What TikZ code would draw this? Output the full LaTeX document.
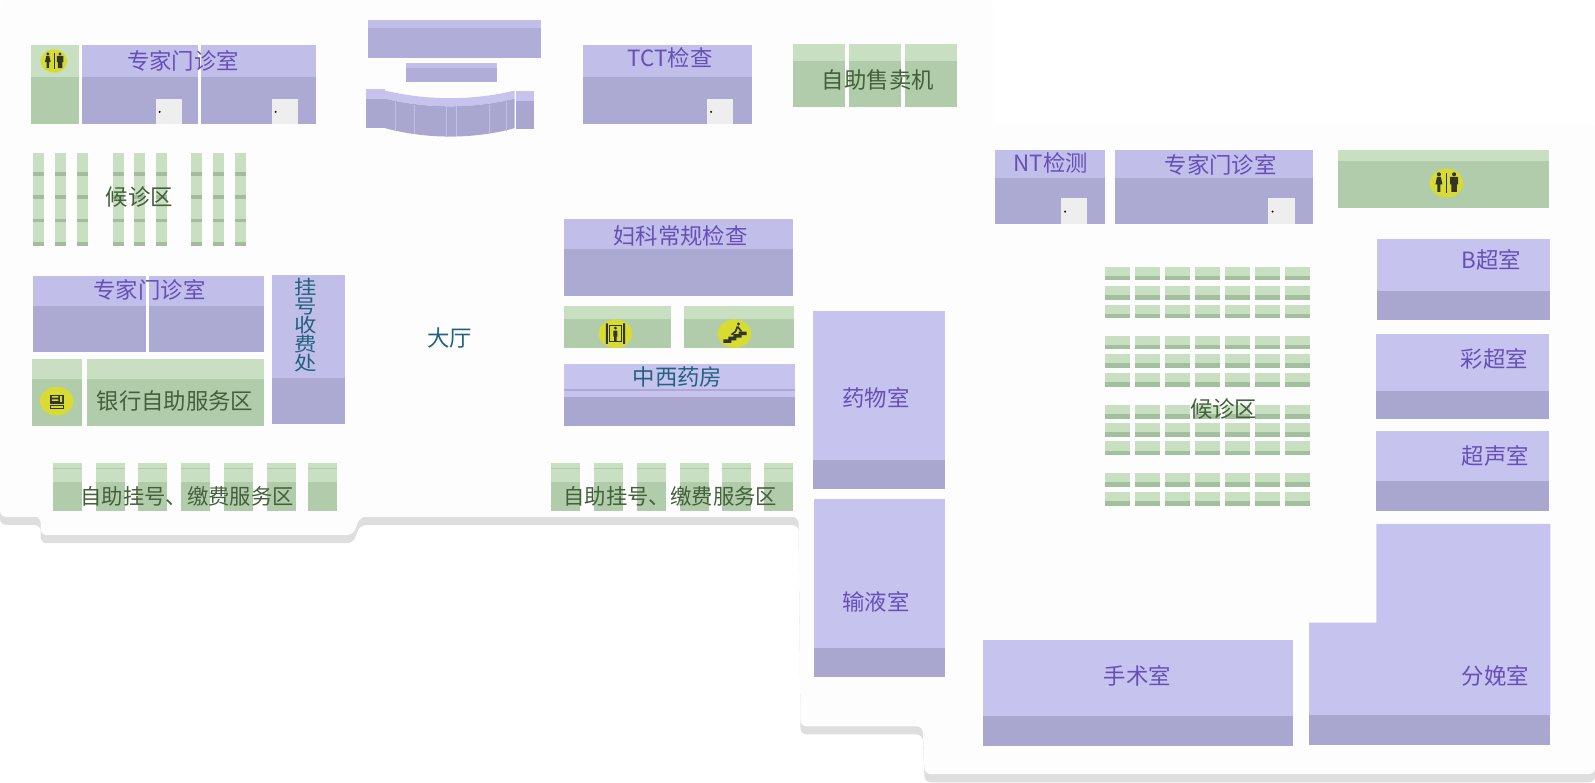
\documentclass[tikz,border=0pt]{standalone}
\usepackage{fontspec}
\setmainfont{Noto Sans CJK SC}
\definecolor{pT}{HTML}{C1BEE9}
\definecolor{pB}{HTML}{ACA9D3}
\definecolor{rB}{HTML}{B0AED8}
\definecolor{qT}{HTML}{C6C4EE}
\definecolor{qB}{HTML}{A9A6CF}
\definecolor{gT}{HTML}{C8DFC1}
\definecolor{gB}{HTML}{B1CCAB}
\definecolor{sB}{HTML}{A2BF9E}
\definecolor{tP}{HTML}{6650B8}
\definecolor{tG}{HTML}{44603A}
\definecolor{tB}{HTML}{23627F}
\definecolor{yel}{HTML}{D8DC32}
\definecolor{ico}{HTML}{33352A}
\definecolor{flo}{HTML}{FDFDFD}
\definecolor{sha}{HTML}{DEDEDE}
\definecolor{dr}{HTML}{EEEEEE}
\tikzset{
 lbl/.style={inner sep=0pt,font=\fontsize{22}{22}\selectfont},
 lp/.style={lbl,text=tP}, lg/.style={lbl,text=tG}, lb/.style={lbl,text=tB},
 lsm/.style={inner sep=0pt,text=tG,font=\fontsize{21}{21}\selectfont},
 lsq/.style={lb,yscale=0.87,transform shape},
 floorpath/.style={rounded corners=6pt},
}
% #1 x0, #2 y0, #3 x1, #4 y1, #5 split, #6 top, #7 bottom
\newcommand{\room}[7]{\fill[#6] (#1,#2) rectangle (#3,#5);\fill[#7] (#1,#5) rectangle (#3,#4);}
\newcommand{\doorat}[2]{\fill[dr] (#1,#2) rectangle ++(26,25);\fill[black!80!red] (#1+4,#2+13) circle (1.1);}
\newcommand{\spot}[2]{\fill[yel] (#1,#2) ellipse (16.5 and 14);}
% #1 x, #2 y, #3 scale
\newcommand{\wc}[3]{\begin{scope}[shift={(#1,#2)},scale=#3]
 \fill[yel] (0,0) ellipse (13.2 and 11.4);
 \fill[ico] (-6,-7) circle (1.6) (6,-7) circle (1.6);
 \fill[ico] (-7.5,-5) -- (-4.5,-5) -- (-3.2,1) -- (-4.8,1) -- (-4.8,7) -- (-7.2,7) -- (-7.2,1) -- (-8.8,1) -- cycle;
 \fill[ico] (2.8,-5) rectangle (9.2,1) (3.8,0) rectangle (8.2,7);
 \fill[ico] (-0.4,-8) rectangle (0.4,8);
 \end{scope}}
\begin{document}
\begin{tikzpicture}[x=1pt,y=-1pt]
\useasboundingbox (0,0) rectangle (1568,769);
\fill[white] (0,0) rectangle (1568,769);
% floor shadow: the floor outline moved 8 down
\fill[sha,floorpath,shift={(0,8)}] (0,0) -- (0,508) -- (40,508) -- (40,526) -- (347,526) -- (354,508) -- (785,508) -- (787,714) -- (907,714) -- (909,761) -- (1568,761) -- (1568,121) -- (976,121) -- (976,0) -- cycle;
% floor
\fill[flo,floorpath] (0,0) -- (0,508) -- (40,508) -- (40,526) -- (347,526) -- (354,508) -- (785,508) -- (787,714) -- (907,714) -- (909,761) -- (1568,761) -- (1568,121) -- (976,121) -- (976,0) -- cycle;

% left top
\room{30}{44}{78}{122}{76}{gT}{gB}
\wc{53}{60}{1}
\room{81}{44}{195}{122}{76}{pT}{pB}
\room{198}{44}{311}{122}{76}{pT}{pB}
\doorat{153}{97}\doorat{267}{97}
\node[lp] (zj1) at (180,60) {专家门诊室};

% left seats
\foreach \x/\w in {32/11,54/11,76/10.5,111/10.5,132/11,153/11,188/10.5,209/11,231/10.5}{
 \fill[gT] (\x,150) rectangle ++(\w,92);
 \foreach \y/\h in {169/4,192/3.5,215/3.5,238/4}{\fill[gB!92!black] (\x,\y) rectangle ++(\w,\h);}
}
\node[lg] (hz1) at (137,194) {候诊区};

% reception
\room{362}{20}{532}{57}{28}{pT}{rB}
\room{399}{62}{489}{81}{67}{pT}{rB}
\room{360}{87}{378}{126}{97}{qT}{qB}
\room{507}{89}{525}{127}{99}{qT}{qB}
\fill[qT] (378.5,89) .. controls (420,99) and (465,99) .. (506,89) -- (506,97) .. controls (465,107) and (420,107) .. (378.5,97) -- cycle;
\fill[qB] (378.5,97) .. controls (420,107) and (465,107) .. (506,97) -- (506,126) .. controls (465,137) and (420,137) .. (378.5,126) -- cycle;
\draw[pT,line width=0.6pt] (389,100) -- (389,128.5) (407,103) -- (407,131.5) (439,104.5) -- (439,133.5) (449,104.5) -- (449,133.5) (481,103) -- (481,131.5) (498,100) -- (498,128.5);

% TCT
\room{573}{44}{739}{122}{76}{pT}{pB}
\doorat{695}{97}
\node[lp] (tct) at (659,57) {TCT检查};

% vending
\room{780}{43}{831}{105}{60}{gT}{gB}
\room{835}{43}{886}{105}{60}{gT}{gB}
\room{890}{43}{941}{105}{60}{gT}{gB}
\node[lg] (sm) at (863,79) {自助售卖机};

% upper right
\room{978}{147}{1086}{220}{175}{pT}{pB}
\doorat{1043}{195}
\node[lp] (nt) at (1033,160) {NT检测};
\room{1096}{147}{1291}{220}{175}{pT}{pB}
\doorat{1247}{195}
\node[lp] (zj2) at (1200,162) {专家门诊室};
\room{1315}{147}{1523}{204}{158}{gT}{gB}
\wc{1422}{180}{1.24}

% ultrasound rooms
\room{1354}{235}{1524}{315}{286}{qT}{qB}
\node[lp] (bc) at (1466,255) {B超室};
\room{1353}{328}{1523}{412}{384}{qT}{qB}
\node[lp] (cc) at (1469,353) {彩超室};
\room{1353}{424}{1523}{502}{473}{qT}{qB}
\node[lp] (cs) at (1470,448) {超声室};

% delivery
\fill[qT] (1353,515) -- (1524,515) -- (1524,703) -- (1287,703) -- (1287,612) -- (1353,612) -- cycle;
\fill[qB] (1287,703) rectangle (1524,732);
\node[lp] (fm) at (1470,664) {分娩室};
% surgery
\room{966}{629}{1271}{733}{704}{qT}{qB}
\node[lp] (ss) at (1118,664) {手术室};
% pharmacy, infusion
\room{799}{306}{929}{481}{452}{qT}{qB}
\node[lp] (yw) at (861,391) {药物室};
\room{800}{491}{929}{666}{637}{qT}{qB}
\node[lp] (sy) at (861,592) {输液室};

% gynecology
\room{554}{215}{780}{291}{245}{pT}{pB}
\node[lp] (fk) at (669,232) {妇科常规检查};
% lift and stairs
\room{554}{301}{660}{342}{314}{gT}{gB}
\room{672}{301}{781}{342}{314}{gT}{gB}
\spot{605}{328}
\fill[ico] (595.5,318) rectangle (597.5,338) (612.5,318) rectangle (614.5,338);
\draw[ico,line width=0.8pt] (599,320) rectangle (611,336);
\fill[ico] (605,322.5) circle (1.5) (603,325) rectangle (607,331) (603.7,331) rectangle (606.3,335);
\spot{722}{328}
\fill[ico] (711,333.5) -- (716,333.5) -- (716,331) -- (721,331) -- (721,328.5) -- (726,328.5) -- (726,326) -- (734,326) -- (734,329.5) -- (729,329.5) -- (729,332) -- (724,332) -- (724,334.5) -- (719,334.5) -- (719,337) -- (711,337) -- cycle;
\fill[ico] (726,318.5) circle (1.6);
\draw[ico,line width=1.6pt] (725,321) -- (723,326) (725,321) -- (729,326) (723,326) -- (719,329);
% pharmacy west/east
\fill[qT] (554,358) rectangle (782,382);
\fill[pB] (554,382) rectangle (782,384);
\fill[qT] (554,384) rectangle (782,390);
\fill[qB] (554,390) rectangle (782,419);
\node[lb] (zx) at (666,371) {中西药房};

% self service right
\foreach \x in {542,584,626,668,710,751}{
 \room{\x}{455}{\x+28.5}{502}{474}{gT}{gB}
 \fill[gB] (\x,460) rectangle ++(28.5,0.7);
}
\node[lsm] (zz2) at (659,488) {自助挂号、缴费服务区};
% self service left
\foreach \x in {52,94,136,178,220,262,303}{
 \room{\x}{455}{\x+28.5}{502}{474}{gT}{gB}
 \fill[gB] (\x,460) rectangle ++(28.5,0.7);
}
\node[lsm] (zz1) at (184,488) {自助挂号、缴费服务区};

% bank
\room{31.5}{353}{80.6}{419}{373}{gT}{gB}
\room{85.2}{353}{259.6}{419}{373}{gT}{gB}
\spot{55.7}{394.3}
\fill[ico] (49.5,388) rectangle (62.5,397);
\fill[yel] (51,389.5) rectangle (57.5,391) (51,392.5) rectangle (57.5,394) (59,389.5) rectangle (61,395);
\draw[ico,line width=0.9pt] (49.5,399) rectangle (62.5,402);
\node[lg] (yh) at (172,394) {银行自助服务区};

% clinic, left middle
\room{32}{271}{143.6}{346}{301}{pT}{pB}
\room{146.5}{271}{260}{346}{301}{pT}{pB}
\node[lp] (zj3) at (147,285) {专家门诊室};
% cashier
\room{267}{270}{339}{417}{372}{pT}{pB}
\foreach \y/\t/\n in {282/挂/ga,301.5/号/gb,319.5/收/gc,338/费/gd,357/处/ge}{
 \node[lsq] (\n) at (301,\y) {\t};
}
\node[lb] (dt) at (442,332) {大厅};

% right seats
\foreach \y in {262,281,299.5,330,348,367,398,416,434,465,484}{
 \foreach \x in {1086.5,1116,1145.5,1175,1204.5,1234,1263.5}{
  \fill[gT] (\x,\y) rectangle ++(24.6,9);
  \fill[sB] (\x,\y+9) rectangle ++(24.6,4.5);
 }
}
\node[lg] (hz2) at (1203,402) {候诊区};
\end{tikzpicture}
\end{document}
